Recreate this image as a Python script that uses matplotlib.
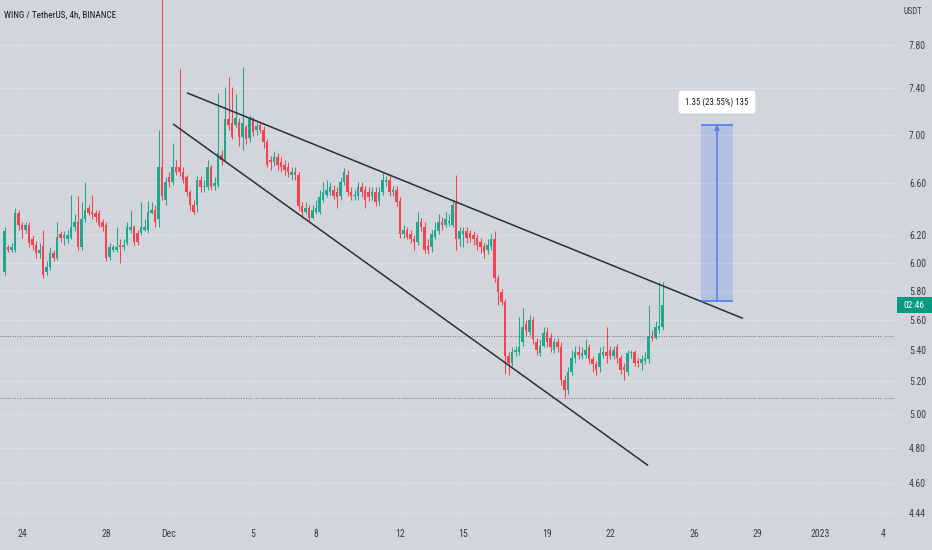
import numpy as np
import pandas as pd
import matplotlib
matplotlib.use("Agg")
import matplotlib.pyplot as plt
import matplotlib.dates as mdates
import matplotlib.font_manager as fm
from matplotlib.patches import Rectangle

# ---------------- data (4h candles, WING/USDT) ----------------
start_time = "2022-11-23 04:00"

opens = [5.93, 6.11, 6.09, 6.09, 6.37, 6.28, 6.24, 6.28, 6.17, 6.13,
         6.07, 6.12, 5.93, 5.97, 6.07, 6.03, 6.21, 6.18, 6.17, 6.18,
         6.26, 6.30, 6.11, 6.32, 6.41, 6.38, 6.37, 6.37, 6.30, 6.28,
         6.04, 6.09, 6.09, 6.13, 6.11, 6.14, 6.24, 6.26, 6.22, 6.22,
         6.24, 6.24, 6.37, 6.39, 6.32, 6.73, 6.47, 6.65, 6.61, 6.73,
         6.73, 6.69, 6.65, 6.53, 6.43, 6.43, 6.63, 6.57, 6.57, 6.73,
         6.58, 6.59, 6.83, 6.79, 7.13, 7.10, 7.08, 7.11, 6.98, 7.06,
         6.97, 7.13, 7.04, 7.08, 7.04, 6.94, 6.79, 6.77, 6.81, 6.77,
         6.75, 6.73, 6.67, 6.69, 6.67, 6.42, 6.38, 6.41, 6.33, 6.38,
         6.38, 6.47, 6.51, 6.53, 6.55, 6.53, 6.50, 6.61, 6.67, 6.53,
         6.50, 6.50, 6.57, 6.55, 6.53, 6.50, 6.53, 6.46, 6.53, 6.61,
         6.63, 6.53, 6.55, 6.46, 6.21, 6.24, 6.21, 6.17, 6.15, 6.30,
         6.26, 6.12, 6.11, 6.19, 6.23, 6.30, 6.28, 6.29, 6.28, 6.45,
         6.17, 6.21, 6.23, 6.22, 6.20, 6.18, 6.15, 6.12, 6.09, 6.12,
         6.17, 5.89, 5.79, 5.72, 5.36, 5.32, 5.39, 5.39, 5.45, 5.57,
         5.52, 5.60, 5.45, 5.38, 5.43, 5.52, 5.48, 5.40, 5.45, 5.42,
         5.21, 5.15, 5.26, 5.35, 5.39, 5.36, 5.37, 5.42, 5.34, 5.31,
         5.29, 5.37, 5.39, 5.40, 5.36, 5.42, 5.35, 5.29, 5.26, 5.38,
         5.39, 5.33, 5.32, 5.33, 5.34, 5.49, 5.48, 5.53, 5.55]

closes = [6.23, 6.09, 6.11, 6.37, 6.28, 6.24, 6.28, 6.14, 6.13, 6.07,
          6.09, 5.91, 5.97, 6.07, 6.03, 6.19, 6.18, 6.20, 6.20, 6.26,
          6.30, 6.11, 6.32, 6.39, 6.37, 6.36, 6.34, 6.28, 6.26, 6.03,
          6.11, 6.11, 6.11, 6.11, 6.13, 6.26, 6.26, 6.15, 6.15, 6.26,
          6.26, 6.38, 6.39, 6.30, 6.73, 6.50, 6.61, 6.61, 6.73, 6.69,
          6.69, 6.63, 6.53, 6.43, 6.38, 6.63, 6.57, 6.58, 6.73, 6.57,
          6.60, 6.85, 6.79, 7.13, 7.08, 6.98, 7.14, 6.98, 7.10, 6.96,
          7.13, 7.02, 7.07, 7.04, 6.94, 6.75, 6.77, 6.81, 6.75, 6.73,
          6.71, 6.69, 6.69, 6.67, 6.42, 6.38, 6.41, 6.33, 6.39, 6.41,
          6.49, 6.53, 6.55, 6.57, 6.50, 6.49, 6.61, 6.69, 6.53, 6.50,
          6.51, 6.57, 6.53, 6.47, 6.49, 6.53, 6.45, 6.53, 6.63, 6.63,
          6.53, 6.55, 6.45, 6.21, 6.24, 6.19, 6.17, 6.15, 6.30, 6.26,
          6.09, 6.09, 6.21, 6.24, 6.30, 6.28, 6.32, 6.31, 6.43, 6.17,
          6.23, 6.23, 6.18, 6.18, 6.17, 6.13, 6.11, 6.08, 6.13, 6.17,
          5.89, 5.79, 5.72, 5.36, 5.32, 5.39, 5.40, 5.42, 5.55, 5.53,
          5.60, 5.47, 5.40, 5.43, 5.51, 5.45, 5.42, 5.45, 5.42, 5.21,
          5.15, 5.26, 5.35, 5.39, 5.37, 5.38, 5.40, 5.34, 5.31, 5.27,
          5.38, 5.39, 5.36, 5.36, 5.40, 5.35, 5.27, 5.27, 5.38, 5.39,
          5.32, 5.32, 5.34, 5.35, 5.49, 5.48, 5.55, 5.56, 5.70]

highs = [6.26, 6.13, 6.14, 6.41, 6.39, 6.30, 6.30, 6.30, 6.20, 6.16,
         6.14, 6.24, 6.01, 6.11, 6.09, 6.30, 6.23, 6.23, 6.24, 6.51,
         6.36, 6.50, 6.45, 6.61, 6.43, 6.51, 6.39, 6.39, 6.32, 6.30,
         6.14, 6.13, 6.26, 6.17, 6.17, 6.30, 6.39, 6.28, 6.24, 6.45,
         6.32, 6.46, 6.45, 6.43, 7.04, 9.00, 6.65, 6.69, 6.93, 6.79,
         7.57, 6.73, 6.67, 6.55, 6.47, 6.66, 6.66, 6.63, 6.79, 6.75,
         6.65, 7.36, 6.87, 7.41, 7.50, 7.41, 7.35, 7.14, 7.59, 7.08,
         7.17, 7.15, 7.11, 7.11, 7.07, 6.96, 6.82, 6.86, 6.85, 6.81,
         6.79, 6.77, 6.73, 6.73, 6.69, 6.45, 6.45, 6.43, 6.43, 6.47,
         6.55, 6.61, 6.63, 6.61, 6.59, 6.57, 6.65, 6.72, 6.71, 6.57,
         6.55, 6.61, 6.61, 6.58, 6.57, 6.57, 6.57, 6.57, 6.69, 6.66,
         6.67, 6.58, 6.58, 6.49, 6.28, 6.26, 6.24, 6.20, 6.38, 6.33,
         6.30, 6.17, 6.24, 6.30, 6.36, 6.34, 6.38, 6.36, 6.47, 6.67,
         6.26, 6.26, 6.26, 6.24, 6.23, 6.21, 6.18, 6.14, 6.17, 6.21,
         6.23, 5.91, 5.81, 5.74, 5.39, 5.42, 5.43, 5.62, 5.68, 5.60,
         5.63, 5.62, 5.48, 5.47, 5.55, 5.55, 5.51, 5.48, 5.48, 5.45,
         5.24, 5.29, 5.40, 5.43, 5.43, 5.42, 5.47, 5.44, 5.36, 5.33,
         5.42, 5.43, 5.55, 5.43, 5.43, 5.44, 5.37, 5.32, 5.40, 5.40,
         5.40, 5.35, 5.37, 5.39, 5.70, 5.53, 5.59, 5.86, 5.86]

lows = [5.91, 6.08, 6.08, 6.08, 6.24, 6.18, 6.22, 6.11, 6.09, 6.03,
        6.03, 5.89, 5.91, 5.95, 6.01, 6.02, 6.15, 6.13, 6.14, 6.17,
        6.23, 6.09, 6.09, 6.30, 6.35, 6.32, 6.30, 6.26, 6.23, 6.01,
        6.02, 6.08, 6.08, 6.00, 6.09, 6.13, 6.22, 6.13, 6.13, 6.20,
        6.23, 6.22, 6.36, 6.26, 6.26, 6.47, 6.43, 6.57, 6.59, 6.67,
        6.66, 6.60, 6.50, 6.39, 6.36, 6.38, 6.53, 6.53, 6.55, 6.55,
        6.55, 6.57, 6.75, 6.77, 7.04, 6.96, 7.06, 6.90, 6.87, 6.92,
        6.94, 6.99, 7.00, 7.01, 6.89, 6.73, 6.71, 6.74, 6.71, 6.69,
        6.67, 6.65, 6.63, 6.63, 6.39, 6.33, 6.36, 6.30, 6.32, 6.36,
        6.36, 6.45, 6.49, 6.51, 6.48, 6.41, 6.47, 6.59, 6.50, 6.47,
        6.47, 6.47, 6.49, 6.41, 6.46, 6.47, 6.42, 6.43, 6.51, 6.58,
        6.50, 6.50, 6.42, 6.18, 6.18, 6.17, 6.14, 6.09, 6.13, 6.23,
        6.07, 6.06, 6.08, 6.17, 6.21, 6.24, 6.26, 6.27, 6.26, 6.09,
        6.12, 6.11, 6.14, 6.15, 6.13, 6.09, 6.07, 6.03, 6.06, 6.09,
        5.86, 5.70, 5.70, 5.25, 5.24, 5.30, 5.36, 5.37, 5.43, 5.49,
        5.50, 5.44, 5.37, 5.36, 5.42, 5.42, 5.39, 5.38, 5.39, 5.18,
        5.10, 5.12, 5.24, 5.32, 5.34, 5.34, 5.35, 5.31, 5.26, 5.24,
        5.26, 5.35, 5.32, 5.34, 5.34, 5.32, 5.25, 5.21, 5.24, 5.35,
        5.30, 5.29, 5.27, 5.31, 5.32, 5.46, 5.47, 5.51, 5.53]

# price axis ticks
price_ticks = [4.44, 4.60, 4.80, 5.00, 5.20, 5.40, 5.60, 5.80, 6.00, 6.20,
               6.60, 7.00, 7.40, 7.80]
# time axis ticks
time_tick_dates = ["2022-11-24", "2022-11-28", "2022-12-01", "2022-12-05",
                   "2022-12-08", "2022-12-12", "2022-12-15", "2022-12-19",
                   "2022-12-22", "2022-12-26", "2022-12-29", "2023-01-01",
                   "2023-01-04"]
time_tick_labels = ["24", "28", "Dec", "5", "8", "12", "15", "19", "22",
                    "26", "29", "2023", "4"]

# drawings
upper_line_t = ["2022-12-01 20:30", "2022-12-28 08:00"]
upper_line_p = [7.36, 5.61]
lower_line_t = ["2022-12-01 04:30", "2022-12-23 19:30"]
lower_line_p = [7.09, 4.70]
hline_levels = [5.49, 5.10]
measure_t = ["2022-12-26 08:00", "2022-12-27 20:30"]
measure_p = [5.73, 7.08]
measure_text = "1.35 (23.55%) 135"
title_text = "WING / TetherUS, 4h, BINANCE"
countdown_text = "02:46"

# ---------------- style ----------------
names = {f.name for f in fm.fontManager.ttflist}
FONT = "DejaVu Sans"
for cand in ["Liberation Sans Narrow", "Roboto Condensed", "Open Sans Condensed",
             "Noto Sans Condensed", "DejaVu Sans Condensed"]:
    if cand in names:
        FONT = cand
        break
plt.rcParams["font.family"] = [FONT, "DejaVu Sans"]

BG = "#d2d5dc"
GRID = "#dcdfe5"
UP = "#1fa88f"
DOWN = "#f4434f"
TXT = "#3a3d46"

W, H = 932, 550
fig = plt.figure(figsize=(W / 100, H / 100), dpi=100)
fig.patch.set_facecolor(BG)
ax = fig.add_axes([0, 28 / H, 895 / W, 522 / H])
ax.set_facecolor(BG)
for s in ax.spines.values():
    s.set_visible(False)

t = pd.date_range(start_time, periods=len(closes), freq="4h")
x = mdates.date2num(t.to_pydatetime())
o = np.array(opens); c = np.array(closes)
h = np.array(highs); l = np.array(lows)
up = c >= o
cols = np.where(up, UP, DOWN)

ax.set_yscale("log")
ax.set_ylim(4.391, 8.23)
ref = pd.Timestamp("2022-12-01")
ax.set_xlim(mdates.date2num(ref - pd.Timedelta(days=8.05)),
            mdates.date2num(ref + pd.Timedelta(days=34.57)))

# grid
ax.set_yticks(price_ticks)
ax.yaxis.set_minor_locator(matplotlib.ticker.NullLocator())
ax.set_yticklabels([f"{v:.2f}" for v in price_ticks])
tick_x = mdates.date2num(pd.to_datetime(time_tick_dates).to_pydatetime())
ax.set_xticks(tick_x)
ax.set_xticklabels(time_tick_labels)
ax.grid(axis="y", color=GRID, lw=0.9, zorder=0)
ax.grid(axis="x", color="#d4d7dd", lw=0.8, zorder=0)
ax.yaxis.tick_right()
ax.tick_params(axis="y", length=0, pad=10, labelsize=7, labelcolor=TXT)
ax.tick_params(axis="x", length=0, pad=5, labelsize=7, labelcolor=TXT)

# dotted horizontal levels
for lv in hline_levels:
    ax.axhline(lv, color="#6f727c", lw=0.7, ls=(0, (1, 1.5)), zorder=1)

# candles
cw = 4 / 24 * 0.8
ax.vlines(x, l, h, colors=cols, lw=0.75, zorder=3)
body_lo = np.minimum(o, c)
body_h = np.maximum(np.abs(c - o), 0.008)
ax.bar(x, body_h, bottom=body_lo, width=cw, color=cols, linewidth=0, zorder=4)

# trend lines
ax.plot(mdates.date2num(pd.to_datetime(upper_line_t).to_pydatetime()), upper_line_p,
        color="#2a2e39", lw=1.1, zorder=5, solid_capstyle="butt")
ax.plot(mdates.date2num(pd.to_datetime(lower_line_t).to_pydatetime()), lower_line_p,
        color="#2a2e39", lw=1.1, zorder=5, solid_capstyle="butt")

# measurement tool
mx = mdates.date2num(pd.to_datetime(measure_t).to_pydatetime())
ax.add_patch(Rectangle((mx[0], measure_p[0]), mx[1] - mx[0], measure_p[1] - measure_p[0],
                       facecolor="#2962ff", alpha=0.18, edgecolor="none", zorder=2))
ax.hlines(measure_p, mx[0], mx[1], color="#4a73f2", lw=1.1, zorder=6)
xm = (mx[0] + mx[1]) / 2
ax.annotate("", xy=(xm, measure_p[1]), xytext=(xm, measure_p[0]),
            arrowprops=dict(arrowstyle="->", color="#4d74f0", lw=1.0,
                            mutation_scale=7, shrinkA=0, shrinkB=0), zorder=6)
ax.annotate(measure_text, xy=(xm, measure_p[1]), xytext=(0, 16.5),
            textcoords="offset points", ha="center", va="center",
            fontsize=6.3, color="#131722", zorder=7,
            bbox=dict(boxstyle="round,pad=0.75,rounding_size=0.25",
                      fc="white", ec="none"))

# texts
fig.text(4 / W, 1 - 15 / H, title_text, fontsize=6.6, color="#131722",
         va="center", ha="left")
fig.text(913 / W, 1 - 12 / H, "USDT", fontsize=6.3, color=TXT,
         va="center", ha="center")

# countdown / last price label
ypx = ax.transData.transform((x[-1], c[-1]))[1]
fig.patches.append(Rectangle((897 / W, (ypx - 8) / H), 35 / W, 16 / H,
                             transform=fig.transFigure, facecolor="#089981",
                             edgecolor="none"))
fig.text(914.5 / W, ypx / H, countdown_text, fontsize=6.8, color="white",
         ha="center", va="center")

fig.savefig("out.png", dpi=100, facecolor=BG)
